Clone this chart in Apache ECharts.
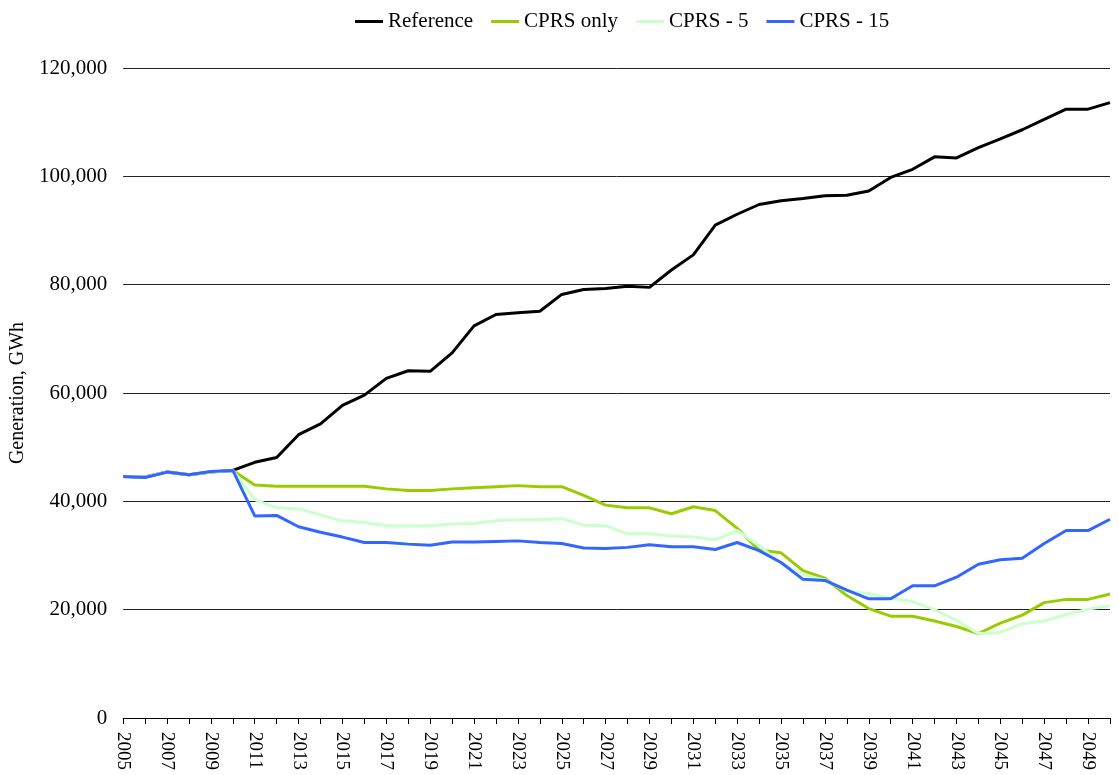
<!DOCTYPE html>
<html>
<head>
<meta charset="utf-8">
<script src="https://cdn.jsdelivr.net/npm/echarts@6/dist/echarts.min.js"></script>
<style>
  html, body { margin: 0; padding: 0; background: #fff; }
  #chart { width: 1119px; height: 775px; }
</style>
</head>
<body>
<div id="chart"></div>
<script>
// years 2005 - 2050
const years = [];
for (let y = 2005; y <= 2050; y++) years.push(String(y));

const reference = [44600, 44500, 45400, 44900, 45400, 45700, 47200, 48100, 52300, 54300,
  57700, 59600, 62700, 64100, 64000, 67400, 72400, 74500, 74800, 75100,
  78200, 79100, 79300, 79700, 79500, 82700, 85500, 91000, 93000, 94800,
  95500, 95900, 96400, 96500, 97300, 99800, 101300, 103600, 103400, 105300,
  106900, 108600, 110500, 112400, 112400, 113600];

const cprsOnly = [44600, 44500, 45400, 44900, 45400, 45700, 43000, 42800, 42800, 42800,
  42800, 42800, 42300, 42000, 42000, 42300, 42500, 42700, 42900, 42700,
  42700, 41100, 39300, 38800, 38800, 37700, 39000, 38300, 35000, 31000,
  30500, 27200, 25800, 22600, 20200, 18800, 18800, 17900, 16900, 15600,
  17500, 19000, 21300, 21900, 21900, 22900];

const cprs5 = [44600, 44500, 45400, 44900, 45400, 45700, 40300, 38800, 38600, 37500,
  36400, 36100, 35500, 35500, 35500, 35800, 35900, 36400, 36600, 36600,
  36800, 35600, 35500, 34000, 34000, 33600, 33400, 32900, 34600, 31800,
  28600, 26400, 25500, 23400, 23000, 22100, 21500, 20000, 18000, 15600,
  15800, 17400, 17900, 19100, 20100, 20700];

const cprs15 = [44600, 44400, 45400, 44900, 45500, 45700, 37300, 37400, 35300, 34300,
  33400, 32400, 32400, 32100, 31900, 32500, 32500, 32600, 32700, 32400,
  32200, 31400, 31300, 31500, 32000, 31600, 31600, 31100, 32400, 30900,
  28700, 25600, 25400, 23600, 22000, 22000, 24400, 24400, 26000, 28400,
  29200, 29500, 32200, 34600, 34600, 36700];

const font = '"Liberation Serif", "Palatino Linotype", serif';

const chart = echarts.init(document.getElementById('chart'));

function line(name, data, color) {
  return {
    name: name,
    type: 'line',
    data: data,
    symbol: 'none',
    lineStyle: { color: color, width: 3 },
    itemStyle: { color: color }
  };
}

chart.setOption({
  animation: false,
  textStyle: { fontFamily: font },
  legend: {
    top: 6,
    left: 350,
    icon: 'rect',
    itemWidth: 28,
    itemHeight: 3,
    itemGap: 18,
    textStyle: { fontFamily: font, fontSize: 21, color: '#000' },
    data: ['Reference', 'CPRS only', 'CPRS - 5', 'CPRS - 15']
  },
  grid: { left: 123, right: 9, top: 68, bottom: 57 },
  xAxis: {
    type: 'category',
    data: years,
    boundaryGap: false,
    axisLine: { lineStyle: { color: '#000', width: 1 } },
    axisTick: { show: true, interval: 0, length: 6, lineStyle: { color: '#000' } },
    axisLabel: {
      interval: 1,
      rotate: -90,
      margin: 14,
      fontFamily: font,
      fontSize: 19,
      color: '#000'
    },
    splitLine: { show: false }
  },
  yAxis: {
    type: 'value',
    min: 0,
    max: 120000,
    interval: 20000,
    name: 'Generation, GWh',
    nameLocation: 'middle',
    nameGap: 88,
    nameTextStyle: { fontFamily: font, fontSize: 20, color: '#000' },
    axisLine: { show: false },
    axisTick: { show: false },
    axisLabel: {
      margin: 16,
      fontFamily: font,
      fontSize: 21,
      color: '#000',
      formatter: function (v) { return v.toLocaleString('en-US'); }
    },
    splitLine: { lineStyle: { color: '#222', width: 1 } }
  },
  series: [
    line('Reference', reference, '#000000'),
    line('CPRS only', cprsOnly, '#99CC00'),
    line('CPRS - 5', cprs5, '#CCFFCC'),
    line('CPRS - 15', cprs15, '#3366FF')
  ]
});
</script>
</body>
</html>
